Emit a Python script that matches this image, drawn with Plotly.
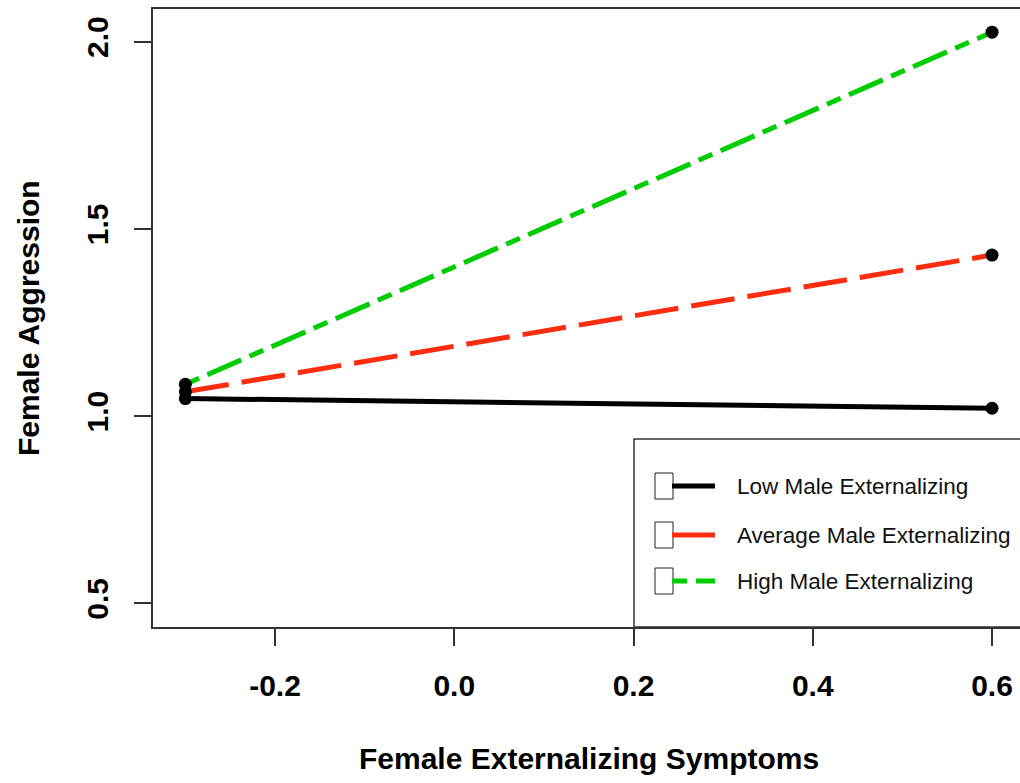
import plotly.graph_objects as go

# ---- data ----
x_vals = [-0.3, 0.6]
series_names = ["Low Male Externalizing", "Average Male Externalizing", "High Male Externalizing"]
low_vals = [1.047, 1.021]
avg_vals = [1.065, 1.430]
high_vals = [1.085, 2.025]
x_tickvals = [-0.2, 0.0, 0.2, 0.4, 0.6]
x_ticktext = ["-0.2", "0.0", "0.2", "0.4", "0.6"]
y_tickvals = [0.5, 1.0, 1.5, 2.0]
y_ticktext = ["0.5", "1.0", "1.5", "2.0"]
x_title = "Female Externalizing Symptoms"
y_title = "Female Aggression"

# ---- styles ----
colors = ["#000000", "#FF2D10", "#00CD00"]
dashes = ["solid", "44px,13px", "15px,9px,37px,9px"]
series_vals = [low_vals, avg_vals, high_vals]

W, H = 1020, 783
L, R, T, B = 153, 1020, 9, 627
FONT = "Liberation Sans, Arial, sans-serif"
AX = "#333333"


def px(x):
    return (x - L) / (R - L)


def py(y):
    return (B - y) / (B - T)


fig = go.Figure()
for name, vals, c, d in zip(series_names, series_vals, colors, dashes):
    fig.add_trace(go.Scatter(x=x_vals, y=vals, mode="lines", name=name,
                             line=dict(color=c, width=5, dash=d), showlegend=False))
for name, vals in zip(series_names, series_vals):
    fig.add_trace(go.Scatter(x=x_vals, y=vals, mode="markers", name=name,
                             marker=dict(color="black", size=13), showlegend=False))

fig.update_layout(
    width=W, height=H,
    margin=dict(l=L, r=W - R, t=T, b=H - B, pad=0),
    paper_bgcolor="white", plot_bgcolor="white",
    font=dict(family=FONT, color="black"),
)
fig.update_xaxes(range=[-0.3361, 0.6312], showgrid=False, zeroline=False,
                 showline=True, mirror=True, linecolor=AX, linewidth=1.5,
                 ticks="outside", ticklen=17, tickwidth=1.5, tickcolor=AX,
                 tickvals=x_tickvals, ticktext=x_ticktext,
                 tickfont=dict(family=FONT, size=30, color="black", weight="bold"),
                 ticklabelstandoff=14)
fig.update_yaxes(range=[0.437, 2.087], showgrid=False, zeroline=False,
                 showline=True, mirror=False, linecolor=AX, linewidth=1.5,
                 ticks="outside", ticklen=17, tickwidth=1.5, tickcolor=AX,
                 tickvals=y_tickvals, ticktext=y_ticktext, tickangle=-90,
                 tickfont=dict(family=FONT, size=30, color="black", weight="bold"),
                 ticklabelstandoff=14)

# axis titles
fig.add_annotation(text=x_title, x=px(588.5), y=py(758), xref="paper", yref="paper",
                   xanchor="center", yanchor="middle", showarrow=False,
                   font=dict(family=FONT, size=30, color="black", weight="bold"))
fig.add_annotation(text=y_title, x=px(28), y=py(318), xref="paper", yref="paper",
                   xanchor="center", yanchor="middle", showarrow=False, textangle=-90,
                   font=dict(family=FONT, size=30, color="black", weight="bold"))

# legend box (drawn manually, R-style)
fig.add_shape(type="rect", xref="paper", yref="paper",
              x0=px(634), x1=px(1030), y0=py(627), y1=py(439),
              line=dict(color=AX, width=1.5), fillcolor="rgba(0,0,0,0)")
row_y = [486, 535, 581]
for name, c, d, ry in zip(series_names, colors, dashes, row_y):
    fig.add_shape(type="rect", xref="paper", yref="paper",
                  x0=px(655), x1=px(673), y0=py(ry + 13), y1=py(ry - 13),
                  line=dict(color="#222222", width=1), fillcolor="white")
    fig.add_shape(type="line", xref="paper", yref="paper",
                  x0=px(672), x1=px(715), y0=py(ry), y1=py(ry),
                  line=dict(color=c, width=5, dash=d))
    fig.add_annotation(text=name, x=px(735), y=py(ry), xref="paper", yref="paper",
                       xanchor="left", yanchor="middle", showarrow=False,
                       font=dict(family=FONT, size=22.5, color="#111111"))

fig.write_html("out.html")
